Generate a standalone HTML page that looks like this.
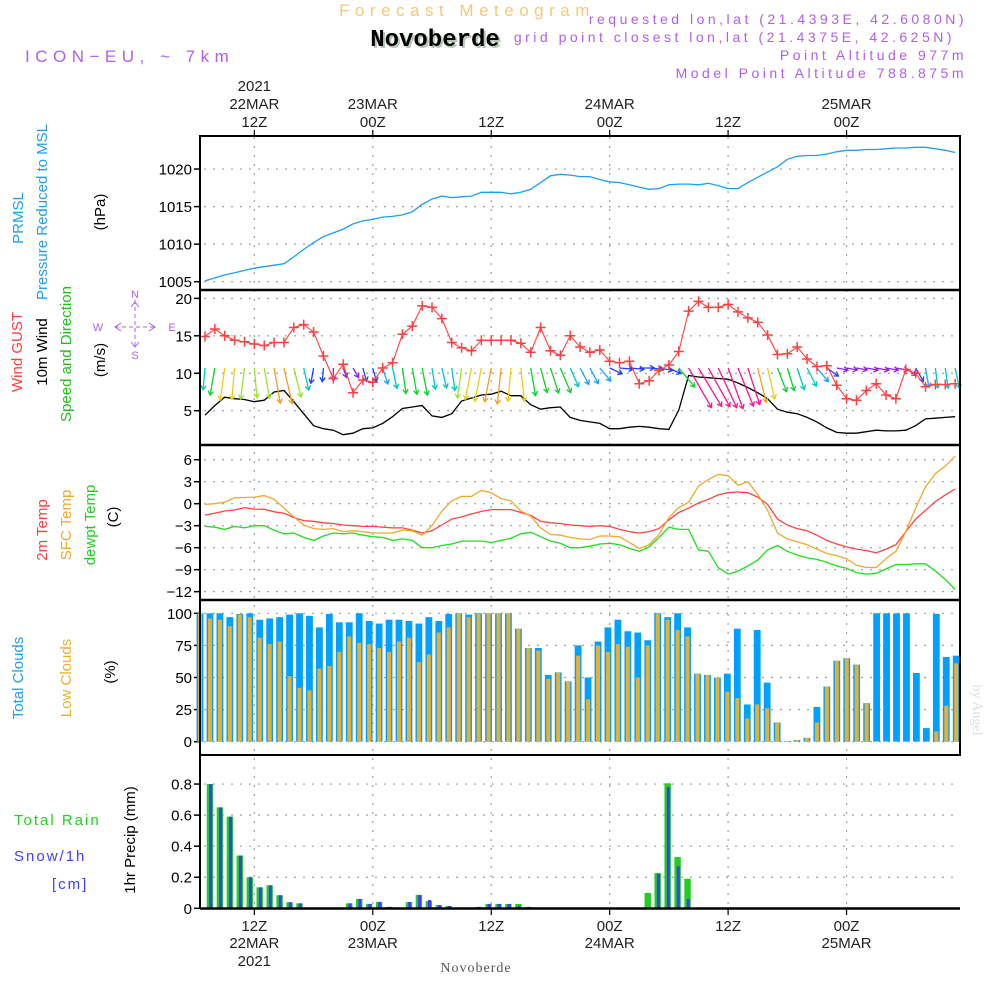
<!DOCTYPE html>
<html><head><meta charset="utf-8"><style>
html,body{margin:0;padding:0;background:#fff;}
svg{display:block;font-family:"Liberation Sans",sans-serif;}
</style></head><body>
<svg id="chart" width="1000" height="1000" viewBox="0 0 1000 1000" xmlns="http://www.w3.org/2000/svg">
<rect x="0" y="0" width="1000" height="1000" fill="#fff"/>
<text x="467" y="16" font-size="17" fill="#f5c97a" text-anchor="middle" letter-spacing="5.5">Forecast Meteogram</text>
<text x="437" y="48" font-size="24" font-weight="bold" font-family="Liberation Mono,monospace" fill="#b8c8b8" text-anchor="middle">Novoberde</text>
<text x="435" y="46" font-size="24" font-weight="bold" font-family="Liberation Mono,monospace" fill="#000" text-anchor="middle">Novoberde</text>
<text x="25" y="62" font-size="17" fill="#b060e8" letter-spacing="5.5">ICON−EU, ~ 7km</text>
<g font-size="14" fill="#b060e8" text-anchor="end" letter-spacing="3.5">
<text x="967" y="24">requested lon,lat (21.4393E, 42.6080N)</text>
<text x="955" y="42">grid point closest lon,lat (21.4375E, 42.625N)</text>
<text x="967" y="60">Point Altitude 977m</text>
<text x="967" y="78">Model Point Altitude 788.875m</text>
</g>
<g font-size="15">
<text transform="translate(23,218) rotate(-90)" fill="#1ea0f0" text-anchor="middle">PRMSL</text>
<text transform="translate(47,212) rotate(-90)" fill="#1ea0f0" text-anchor="middle">Pressure Reduced to MSL</text>
<text transform="translate(105,212) rotate(-90)" fill="#000" text-anchor="middle">(hPa)</text>
<text transform="translate(22,352) rotate(-90)" fill="#ff4040" text-anchor="middle">Wind GUST</text>
<text transform="translate(47,352) rotate(-90)" fill="#000" text-anchor="middle">10m Wind</text>
<text transform="translate(71,354) rotate(-90)" fill="#20c020" text-anchor="middle">Speed and Direction</text>
<text transform="translate(105,360) rotate(-90)" fill="#000" text-anchor="middle">(m/s)</text>
<text transform="translate(47,530) rotate(-90)" fill="#ff4040" text-anchor="middle">2m Temp</text>
<text transform="translate(71,525) rotate(-90)" fill="#f0a830" text-anchor="middle">SFC Temp</text>
<text transform="translate(95,525) rotate(-90)" fill="#20d020" text-anchor="middle">dewpt Temp</text>
<text transform="translate(118,517) rotate(-90)" fill="#000" text-anchor="middle">(C)</text>
<text transform="translate(23,678) rotate(-90)" fill="#1ea0f0" text-anchor="middle">Total Clouds</text>
<text transform="translate(71,678) rotate(-90)" fill="#e8b030" text-anchor="middle">Low Clouds</text>
<text transform="translate(115,672) rotate(-90)" fill="#000" text-anchor="middle">(%)</text>
<text transform="translate(135,840) rotate(-90)" fill="#000" text-anchor="middle">1hr Precip (mm)</text>
<text x="14" y="825" fill="#20d020" letter-spacing="2">Total   Rain</text>
<text x="14" y="861" fill="#4040ff" letter-spacing="2">Snow/1h</text>
<text x="52" y="889" fill="#4040ff" letter-spacing="2">[cm]</text>
</g>
<g stroke="#b060e8" fill="none" stroke-width="1">
<line x1="135" y1="300" x2="135" y2="347" stroke-dasharray="4,3"/>
<line x1="115" y1="327" x2="155" y2="327" stroke-dasharray="4,3"/>
<polyline points="131,307 135,302 139,307"/><polyline points="131,342 135,347 139,342"/>
<polyline points="121,323 115,327 121,331"/><polyline points="149,323 155,327 149,331"/>
</g>
<g font-size="11" fill="#b060e8" text-anchor="middle">
<text x="135" y="298">N</text><text x="135" y="359">S</text><text x="98" y="331">W</text><text x="172" y="331">E</text>
</g>
<text transform="translate(973,710) rotate(90)" font-size="14" font-family="Liberation Serif,serif" fill="#ddd" text-anchor="middle">by Angel</text>
<text x="476" y="972" font-size="14" font-family="Liberation Serif,serif" fill="#555" text-anchor="middle" letter-spacing="1">Novoberde</text>
<g id="plot"></g>
</svg>
<script>
// ---- data (hourly from 07Z 22MAR 2021) ----
const pressure = [1005.1,1005.5,1005.9,1006.2,1006.5,1006.8,1007.0,1007.2,1007.4,1008.3,1009.3,1010.2,1011.0,1011.5,1012.0,1012.7,1013.1,1013.3,1013.6,1013.7,1013.9,1014.3,1015.3,1016.0,1016.4,1016.2,1016.3,1016.4,1016.9,1016.9,1016.9,1016.7,1016.9,1017.3,1018.2,1019.1,1019.3,1019.2,1019.0,1019.0,1018.6,1018.3,1018.2,1017.9,1017.6,1017.3,1017.4,1017.9,1018.0,1018.0,1017.9,1018.1,1017.8,1017.4,1017.4,1018.2,1018.9,1019.6,1020.3,1021.3,1021.7,1021.8,1021.8,1022.0,1022.3,1022.5,1022.5,1022.6,1022.6,1022.7,1022.8,1022.8,1022.9,1022.9,1022.7,1022.5,1022.2];
const gust = [14.9,15.9,15.0,14.4,14.2,13.9,13.7,14.1,14.1,16.1,16.5,15.5,12.3,9.3,11.2,7.4,9.1,8.8,10.7,11.4,15.2,16.3,19.0,18.8,17.3,14.1,13.4,13.0,14.4,14.4,14.4,14.4,14.0,12.8,16.1,13.0,12.4,15.0,13.5,12.8,13.1,11.6,11.4,11.6,8.6,9.0,10.4,11.1,12.9,18.3,19.6,18.8,18.8,19.2,18.2,17.4,16.8,15.1,12.5,12.6,13.5,11.9,10.9,11.0,8.4,6.6,6.4,7.7,8.6,7.1,6.6,10.5,10.0,8.2,8.5,8.5,8.6];
const wind10 = [4.4,5.7,6.8,6.6,6.5,6.2,6.4,7.5,7.7,6.2,4.6,3.0,2.6,2.4,1.8,2.0,2.6,2.7,3.3,4.2,5.3,5.5,5.7,4.3,4.1,4.6,6.3,6.7,7.1,7.2,7.6,7.0,7.0,5.8,5.2,5.4,5.5,4.1,3.7,3.5,3.3,2.6,2.6,2.8,2.9,2.8,2.6,2.5,5.1,9.7,9.5,9.4,9.3,9.2,8.7,8.1,7.4,6.6,5.2,4.8,4.6,4.1,3.5,2.7,2.1,2.0,2.0,2.2,2.4,2.3,2.3,2.4,3.0,3.9,4.0,4.1,4.2];
const windDir = [5,10,8,5,7,355,350,350,347,346,347,10,5,0,340,330,345,345,342,348,352,350,349,351,347,352,8,11,11,11,6,5,354,350,345,342,337,336,332,332,320,295,275,275,270,275,280,295,320,330,329,331,335,340,338,342,346,347,339,343,342,333,320,305,280,280,280,280,280,280,280,305,330,350,353,352,348];
const t2m = [-1.55,-1.3,-1.0,-0.86,-0.55,-0.73,-0.77,-1.1,-1.3,-1.9,-2.3,-2.4,-2.6,-2.7,-2.9,-3.0,-3.1,-3.1,-3.2,-3.3,-3.3,-3.6,-4.0,-3.7,-2.9,-2.1,-1.8,-1.4,-1.05,-0.8,-0.8,-0.8,-1.2,-1.6,-2.4,-2.6,-2.7,-2.9,-3.0,-3.1,-3.0,-3.1,-3.5,-3.8,-4.0,-3.8,-3.4,-2.2,-1.2,-0.6,0.1,0.6,1.2,1.5,1.6,1.5,0.9,-0.1,-2.1,-2.9,-3.4,-3.7,-4.3,-5.0,-5.5,-5.9,-6.2,-6.4,-6.7,-6.2,-5.6,-3.8,-2.1,-0.9,0.3,1.2,2.0];
const tSfc = [-0.1,0,0.2,0.8,0.85,0.9,1.1,0.6,-0.6,-1.8,-2.9,-3.4,-3.5,-3.4,-3.8,-3.7,-3.8,-4.0,-4.0,-4.0,-3.6,-3.7,-4.3,-3.0,-1.0,0.4,1.0,1.0,1.8,1.5,0.7,0.4,-1.0,-1.7,-3.3,-4.2,-4.3,-4.6,-4.8,-4.9,-4.4,-4.4,-4.5,-5.3,-6.1,-5.6,-4.2,-1.9,-0.5,0.2,2.4,3.3,4.0,3.8,2.5,3.0,1.3,-0.9,-4.0,-4.8,-5.2,-5.6,-6.2,-6.8,-7.1,-7.5,-8.4,-8.7,-8.7,-7.5,-6.5,-3.8,-0.6,2.3,4.1,5.1,6.5];
const tDew = [-3.1,-3.2,-3.5,-3.1,-3.3,-3.0,-3.0,-3.6,-4.1,-4.0,-4.6,-5.0,-4.4,-4.0,-4.1,-4.0,-4.3,-4.5,-4.6,-5.0,-4.8,-5.0,-6.0,-6.0,-5.7,-5.5,-5.1,-5.1,-5.1,-5.3,-5.0,-4.7,-4.1,-3.9,-4.5,-5.1,-5.4,-6.0,-6.0,-5.8,-5.5,-5.4,-5.6,-6.1,-6.5,-5.9,-4.6,-3.2,-3.5,-3.5,-6.3,-6.5,-8.7,-9.6,-9.2,-8.5,-7.7,-6.3,-5.7,-6.5,-7.0,-7.4,-7.6,-8.0,-8.5,-8.8,-9.4,-9.6,-9.5,-8.9,-8.3,-8.3,-8.2,-8.2,-9.2,-10.3,-11.7];
const cloudTotal = [100,100,100,97,99.5,100,95,96,97,99,100,98,89,99.5,93,93,100,94,92,95,95,94,92,97,94,99.5,100,99,100,100,100,100,88,73,73,52,54,47,75,50,78,89,95,86,85,79,100,97,100,89,53,52,50,53,88,29,87,46,15,0.5,1.3,3,27,43,63,65,60,30,100,100,100,100,53.5,10.6,99.5,66,67];
const cloudLow = [100,96,95,90,99,97,81,76,78,51,42,40,57,59,70,82,77,76,73,70,78,81,62,68,85,89,100,97,99.5,100,100,100,88,73,71,49,54,47,67,33,75,70,76,74,50,75,99.5,95,87,82,53,52,50,39,34,18,29,26,15,0.5,1.3,3,15,43,63,65,60,30,0.5,0.5,0.5,0.5,0.5,0.5,8,28,61];
const rain = [0,0.80,0.65,0.59,0.34,0.20,0.135,0.148,0.084,0.039,0.032,0,0,0.002,0.002,0.032,0.06,0.028,0.041,0.009,0.003,0.04,0.086,0.047,0.021,0.015,0.003,0.003,0.009,0.028,0.028,0.028,0.028,0.009,0,0,0,0,0,0,0,0,0,0,0,0.099,0.227,0.805,0.33,0.19,0,0,0,0,0,0,0,0,0,0,0,0,0,0,0,0,0,0,0,0,0,0,0,0,0,0,0];
const snow = [0,0.80,0.65,0.59,0.34,0.20,0.135,0.148,0.084,0.039,0.032,0,0,0.002,0.002,0.032,0.06,0.028,0.041,0.009,0.003,0.04,0.086,0.054,0.021,0.015,0.003,0.003,0.009,0.028,0.028,0.028,0.015,0.009,0,0,0,0,0,0,0,0,0,0,0,0.005,0.221,0.78,0.27,0.06,0.003,0,0,0,0,0,0,0,0,0,0,0,0,0,0,0,0,0,0,0,0,0,0,0,0,0,0];
const timeTickIdx = [5,17,29,41,53,65];
const timeTickHour = ['12Z','00Z','12Z','00Z','12Z','00Z'];
const timeTickDay = ['22MAR','23MAR','','24MAR','','25MAR'];
const pressureTicks = [1005,1010,1015,1020];
const windTicks = [5,10,15,20];
const tempTicks = [6,3,0,-3,-6,-9,-12];
const cloudTicks = [0,25,50,75,100];
const precipTicks = [0,0.2,0.4,0.6,0.8];
const precipTickLabels = ['0','0.2','0.4','0.6','0.8'];

const NS = 'http://www.w3.org/2000/svg';
const plot = document.getElementById('plot');
function mk(tag, attrs, parent) {
  const el = document.createElementNS(NS, tag);
  for (const k in attrs) el.setAttribute(k, attrs[k]);
  (parent || plot).appendChild(el);
  return el;
}
const L = 200, R = 960;
const xl = i => 205 + 9.87 * i;
const xb = i => 200 + 9.95 * i;
const yP = v => 281.7 - (v - 1005) * 7.51;
const yW = v => 410.7 - (v - 5) * 7.49;
const yT = v => 503.7 - v * 7.33;
const yC = v => 741.7 - v * 1.284;
const yR = v => 908.3 - v * 155.3;

// grids
const gridG = mk('g', {stroke: '#a0a0a0', 'stroke-width': 1.2, 'stroke-dasharray': '2,7'});


timeTickIdx.forEach(i => {
  const ln = mk('line', {x1: xl(i), x2: xl(i), y1: 137, y2: 907}, gridG);
  
  
});
function hgrid(ticks, f, name) {
  ticks.forEach(t => {
    const ln = mk('line', {x1: 204, x2: R, y1: f(t), y2: f(t)}, gridG);
    
    
  });
}
hgrid(pressureTicks, yP, 'pressure-gridline');
hgrid(windTicks, yW, 'wind-gridline');
hgrid(tempTicks, yT, 'temp-gridline');
hgrid(cloudTicks, yC, 'cloud-gridline');
hgrid(precipTicks.slice(1), yR, 'precip-gridline');

// y tick labels
function yAxis(ticks, labels, f, name) {
  ticks.forEach((t, k) => {
    const tk = mk('line', {x1: 194, x2: 200, y1: f(t), y2: f(t), stroke: '#000', 'stroke-width': 1.5});
    
    
    const tx = mk('text', {x: 192, y: f(t) + 5.5, 'font-size': 15, 'text-anchor': 'end', fill: '#000'});
    tx.textContent = labels[k];
    
    
  });
}
yAxis(pressureTicks, pressureTicks.map(String), yP, 'pressure');
yAxis(windTicks, windTicks.map(String), yW, 'wind');
yAxis(tempTicks, tempTicks.map(t => String(t).replace('-', '−')), yT, 'temp');
yAxis(cloudTicks, cloudTicks.map(String), yC, 'cloud');
yAxis(precipTicks, precipTickLabels, yR, 'precip');

// cloud bars
cloudTotal.forEach((v, i) => {
  const b = mk('rect', {x: xb(i) - 3.4, y: yC(v), width: 6.8, height: yC(0) - yC(v), fill: '#00a0ff'});
  
  
});
cloudLow.forEach((v, i) => {
  const b = mk('rect', {x: xb(i) - 2, y: yC(v), width: 4, height: yC(0) - yC(v), fill: '#e8b030'});
  
  
});
// precip bars
rain.forEach((v, i) => {
  if (v <= 0) return;
  const b = mk('rect', {x: xb(i) - 3.2, y: yR(v), width: 6.4, height: yR(0) - yR(v), fill: '#22cc22'});
  
  
});
snow.forEach((v, i) => {
  if (v <= 0) return;
  const b = mk('rect', {x: xb(i) - 0.8, y: yR(v), width: 3, height: yR(0) - yR(v), fill: '#3c3cff'});
  
  
});

// lines
function line(vals, f, color, name, w) {
  const p = mk('polyline', {points: vals.map((v, i) => xl(i).toFixed(1) + ',' + f(v).toFixed(1)).join(' '), fill: 'none', stroke: color, 'stroke-width': w || 1.3});
  
  
}
line(pressure, yP, '#1ea0f0', 'pressure-line');
line(wind10, yW, '#000', 'wind-10m-line');
line(t2m, yT, '#ff4444', 't2m-line');
line(tSfc, yT, '#f0a830', 'sfc-temp-line');
line(tDew, yT, '#20dd20', 'dewpoint-line');

// wind arrows
function spdColor(v) {
  if (v < 2.5) return '#9020e0';
  if (v < 3.2) return '#2040ff';
  if (v < 4.0) return '#1ea0ff';
  if (v < 4.8) return '#00c8c8';
  if (v < 6.0) return '#10d030';
  if (v < 6.6) return '#a0e030';
  if (v < 7.2) return '#e8d010';
  if (v < 8.0) return '#f0a020';
  return '#ff1493';
}
wind10.forEach((v, i) => {
  const b = (windDir[i] + 180) * Math.PI / 180;
  const len = 4.5 * v + 2;
  const x0 = xl(i), y0 = 368;
  const x1 = x0 + Math.sin(b) * len, y1 = y0 - Math.cos(b) * len;
  const ang = Math.atan2(y1 - y0, x1 - x0);
  const h = 5;
  const a1 = ang + Math.PI * 0.82, a2 = ang - Math.PI * 0.82;
  const d = 'M' + x0 + ',' + y0 + 'L' + x1 + ',' + y1 +
    'M' + (x1 + h * Math.cos(a1)) + ',' + (y1 + h * Math.sin(a1)) + 'L' + x1 + ',' + y1 +
    'L' + (x1 + h * Math.cos(a2)) + ',' + (y1 + h * Math.sin(a2));
  const p = mk('path', {d: d, fill: 'none', stroke: spdColor(v), 'stroke-width': 1.3});
  
  
});

// gust line + crosses
line(gust, yW, '#ff4040', 'gust-line', 1.1);
gust.forEach((v, i) => {
  const x = xl(i), y = yW(v);
  const c = mk('path', {d: 'M' + (x - 5) + ',' + y + 'H' + (x + 5) + 'M' + x + ',' + (y - 5) + 'V' + (y + 5), stroke: '#ff4040', 'stroke-width': 1.5});
  
  
});

// frames
const fr = mk('g', {stroke: '#000', 'stroke-width': 2, fill: 'none'});


mk('rect', {x: L, y: 136, width: R - L, height: 619}, fr);
[290, 445, 600].forEach(y => mk('line', {x1: L, x2: R, y1: y, y2: y, 'stroke-width': 2.5}, fr));
mk('line', {x1: L, x2: L, y1: 755, y2: 909}, fr);
mk('line', {x1: L, x2: R, y1: 908.5, y2: 908.5, 'stroke-width': 2.5}, fr);

// time axis labels
timeTickIdx.forEach((i, k) => {
  const x = xl(i);
  const t1 = mk('line', {x1: x, x2: x, y1: 130, y2: 136, stroke: '#000', 'stroke-width': 1.2});
  
  
  const t2 = mk('line', {x1: x, x2: x, y1: 908, y2: 915, stroke: '#000', 'stroke-width': 1.2});
  
  
  const a = mk('text', {x: x, y: 127, 'font-size': 15, 'text-anchor': 'middle', fill: '#222'});
  a.textContent = timeTickHour[k];
  
  
  const c = mk('text', {x: x, y: 931, 'font-size': 15, 'text-anchor': 'middle', fill: '#222'});
  c.textContent = timeTickHour[k];
  
  
  if (timeTickDay[k]) {
    const b = mk('text', {x: x, y: 109, 'font-size': 15, 'text-anchor': 'middle', fill: '#222'});
    b.textContent = timeTickDay[k];
    
    
    const d = mk('text', {x: x, y: 948, 'font-size': 15, 'text-anchor': 'middle', fill: '#222'});
    d.textContent = timeTickDay[k];
    
    
  }
  if (k === 0) {
    const y1 = mk('text', {x: x, y: 91, 'font-size': 15, 'text-anchor': 'middle', fill: '#222'});
    y1.textContent = '2021';
    
    
    const y2 = mk('text', {x: x, y: 966, 'font-size': 15, 'text-anchor': 'middle', fill: '#222'});
    y2.textContent = '2021';
    
    
  }
});
</script>
</body></html>
